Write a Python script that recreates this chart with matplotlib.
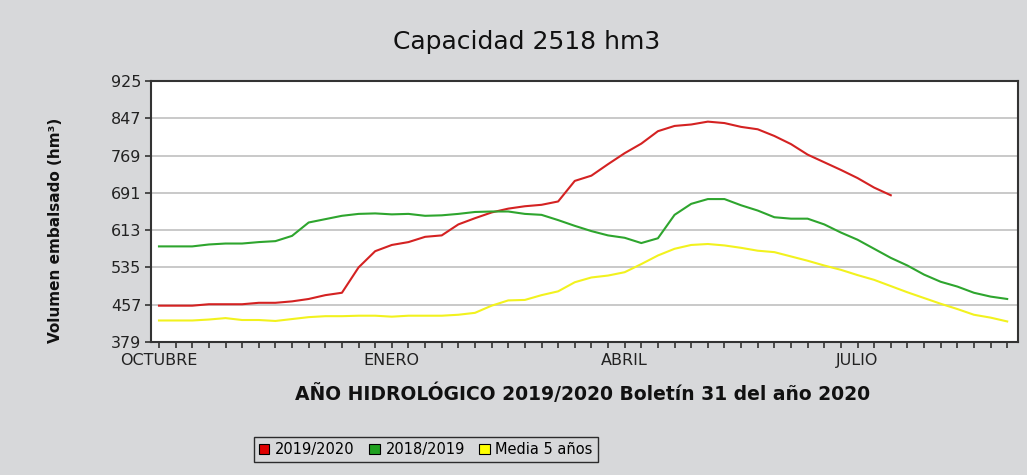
import matplotlib
matplotlib.use("Agg")
import matplotlib.pyplot as plt
from matplotlib.patches import Patch

# ---- data ----
week_labels = ["OCTUBRE"] + [""] * 13 + ["ENERO"] + [""] * 13 + ["ABRIL"] + [""] * 13 + ["JULIO"] + [""] * 9
y_ticks = [379, 457, 535, 613, 691, 769, 847, 925]

s_2019_2020 = [455, 455, 455, 458, 458, 458, 461, 461, 464, 469, 477, 482, 535, 569, 582,
               588, 599, 602, 625, 638, 650, 658, 663, 666, 673, 716, 727, 751, 774, 794,
               820, 831, 834, 840, 837, 829, 824, 810, 793, 771, 755, 739, 722, 702, 686]
s_2018_2019 = [579, 579, 579, 583, 585, 585, 588, 590, 601, 629, 636, 643, 647, 648, 646,
               647, 643, 644, 647, 651, 652, 652, 647, 645, 634, 622, 611, 602, 597, 586,
               596, 645, 668, 678, 678, 665, 654, 640, 637, 637, 625, 608, 593, 574, 555,
               539, 520, 505, 495, 482, 474, 469]
s_media5 = [424, 424, 424, 426, 429, 425, 425, 423, 427, 431, 433, 433, 434, 434, 432,
            434, 434, 434, 436, 440, 455, 466, 467, 477, 485, 504, 514, 518, 525, 542,
            560, 574, 582, 584, 581, 576, 570, 567, 558, 549, 539, 530, 519, 509, 496,
            483, 471, 459, 448, 436, 430, 422]

names = ["2019/2020", "2018/2019", "Media 5 años"]
line_colors = ["#d42222", "#2ea52e", "#f2f21e"]
legend_colors = ["#e00000", "#1fa01f", "#ffff00"]

title = "Capacidad 2518 hm3"
xlabel = "AÑO HIDROLÓGICO 2019/2020 Boletín 31 del año 2020"
ylabel = "Volumen embalsado (hm³)"

bg = "#d7d8da"
fig = plt.figure(figsize=(10.27, 4.75), dpi=100, facecolor=bg)
ax = fig.add_axes([151 / 1027, 1 - 342 / 475, (1018 - 151) / 1027, (342 - 81) / 475])
ax.set_facecolor("white")

series = [s_2019_2020, s_2018_2019, s_media5]
for s, c in zip(series, line_colors):
    ax.plot(range(len(s)), s, color=c, lw=1.5, solid_joinstyle="round", zorder=3)

ax.set_xlim(-0.48, 51.65)
ax.set_ylim(y_ticks[0], y_ticks[-1])
ax.set_yticks(y_ticks)
ax.set_yticklabels([str(v) for v in y_ticks], fontsize=11.5, color="#222222")
ax.set_xticks(range(len(week_labels)))
ax.set_xticklabels(week_labels, fontsize=11.5, color="#222222")
ax.tick_params(axis="x", length=4, width=1.2, color="#333333", pad=4)
ax.tick_params(axis="y", length=4, width=1.2, color="#333333", pad=3)
ax.yaxis.grid(True, color="#c9c9c9", lw=1.4)
ax.set_axisbelow(True)
for sp in ax.spines.values():
    sp.set_color("#333333")
    sp.set_linewidth(1.5)

fig.text(527 / 1027, 1 - 42 / 475, title, ha="center", va="center", fontsize=18, color="#111111")
fig.text(56 / 1027, 1 - 230 / 475, ylabel, ha="center", va="center", rotation=90,
         fontsize=11, fontweight="bold", color="#111111")
fig.text(583 / 1027, 1 - 394 / 475, xlabel, ha="center", va="center", fontsize=13.5,
         fontweight="bold", color="#111111")

handles = [Patch(facecolor=c, edgecolor="black", lw=0.8) for c in legend_colors]
leg = fig.legend(handles, names, loc="center", bbox_to_anchor=(426 / 1027, 1 - 449.5 / 475),
                 ncol=3, fontsize=10.5, frameon=True, fancybox=False, handlelength=0.7,
                 handleheight=0.7, handletextpad=0.4, columnspacing=1.0, borderpad=0.35)
leg.get_frame().set_edgecolor("black")
leg.get_frame().set_facecolor(bg)
leg.get_frame().set_linewidth(1.0)

fig.savefig("out.png", dpi=100, facecolor=bg)
